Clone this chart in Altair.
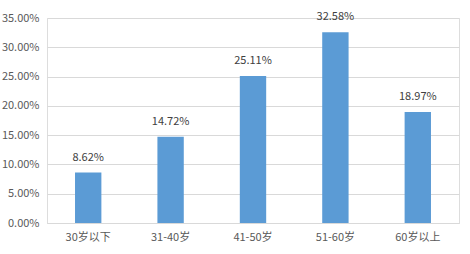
import altair as alt
import pandas as pd

categories = ["30岁以下", "31-40岁", "41-50岁", "51-60岁", "60岁以上"]
values = [0.0862, 0.1472, 0.2511, 0.3258, 0.1897]

df = pd.DataFrame({"cat": categories, "val": values})

FONT = "Noto Sans CJK SC"
base = alt.Chart(df).encode(
    x=alt.X("cat:N", sort=categories, title=None,
            scale=alt.Scale(paddingInner=0.68, paddingOuter=0.34),
            axis=alt.Axis(labelAngle=0, ticks=False, domain=True, domainColor="#D9D9D9",
                          labelColor="#595959", labelFont=FONT, labelFontSize=11,
                          labelPadding=8)),
    y=alt.Y("val:Q", title=None,
            scale=alt.Scale(domain=[0, 0.35]),
            axis=alt.Axis(values=[0, 0.05, 0.1, 0.15, 0.2, 0.25, 0.3, 0.35], format=".2%",
                          ticks=False, domain=False, gridColor="#D9D9D9",
                          labelColor="#595959", labelFont=FONT, labelFontSize=11,
                          labelPadding=8)),
)

bars = base.mark_bar(color="#5B9BD5")
text = base.mark_text(dy=-10, baseline="bottom", color="#404040", font=FONT, fontSize=11).encode(
    text=alt.Text("val:Q", format=".2%"))

chart = (bars + text).properties(
    width=412, height=205,
    autosize=alt.AutoSizeParams(type="none"),
    padding={"left": 47, "top": 18, "right": 11, "bottom": 31},
).configure_view(stroke=None).configure(background="white")

chart.save("out.html", embed_options={"renderer": "svg", "actions": False})
